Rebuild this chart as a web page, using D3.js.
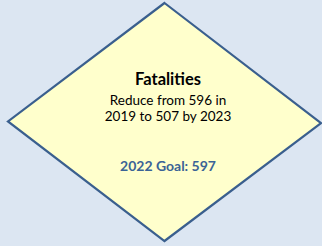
<!DOCTYPE html>
<html>
<head>
<meta charset="utf-8">
<script src="https://cdn.jsdelivr.net/npm/d3@7"></script>
<style>
  html, body { margin: 0; padding: 0; background: #dce6f2; }
  svg { display: block; }
</style>
</head>
<body>
<svg id="chart" width="322" height="246"></svg>
<script>
// ---- data ----
const measure = ["Fatalities"];
const baseline = [2019, 596];   // year, value
const target = [2023, 507];     // year, value
const goal = [2022, 597];       // year, value

const descLines = [
  `Reduce from ${baseline[1]} in`,
  `${baseline[0]} to ${target[1]} by ${target[0]}`
];
const goalText = [`${goal[0]} Goal: ${goal[1]}`];

// ---- layout ----
const W = 322, H = 246;
const svg = d3.select("#chart");

// unit-space scales for the diamond shape
const x = d3.scaleLinear().domain([-1, 1]).range([8, 321]);
const y = d3.scaleLinear().domain([-1, 1]).range([3, 241]);

const diamond = [[0, -1], [1, 0.01], [0, 1], [-1, -0.005]];
const line = d3.line().x(d => x(d[0])).y(d => y(d[1])).curve(d3.curveLinearClosed);

svg.append("rect").attr("width", W).attr("height", H).attr("fill", "#dce6f2");

svg.append("path")
  .attr("d", line(diamond))
  .attr("fill", "#ffffcc")
  .attr("stroke", "#3a5f8e")
  .attr("stroke-width", 2.2)
  .attr("stroke-linejoin", "miter");

const cx = 168;
const font = "Lato, 'Open Sans', sans-serif";

svg.append("text")
  .attr("x", cx).attr("y", 85)
  .attr("text-anchor", "middle")
  .attr("font-family", font)
  .attr("font-weight", "bold")
  .attr("font-size", 16.5)
  .attr("fill", "#000")
  .text(measure[0]);

svg.selectAll("text.desc")
  .data(descLines)
  .join("text")
  .attr("class", "desc")
  .attr("x", cx)
  .attr("y", (d, i) => 105 + i * 16)
  .attr("text-anchor", "middle")
  .attr("font-family", font)
  .attr("font-size", 13.5)
  .attr("fill", "#000")
  .text(d => d);

svg.append("text")
  .attr("x", cx).attr("y", 171)
  .attr("text-anchor", "middle")
  .attr("font-family", font)
  .attr("font-weight", "bold")
  .attr("font-size", 14)
  .attr("fill", "#3b6396")
  .text(goalText[0]);
</script>
</body>
</html>
